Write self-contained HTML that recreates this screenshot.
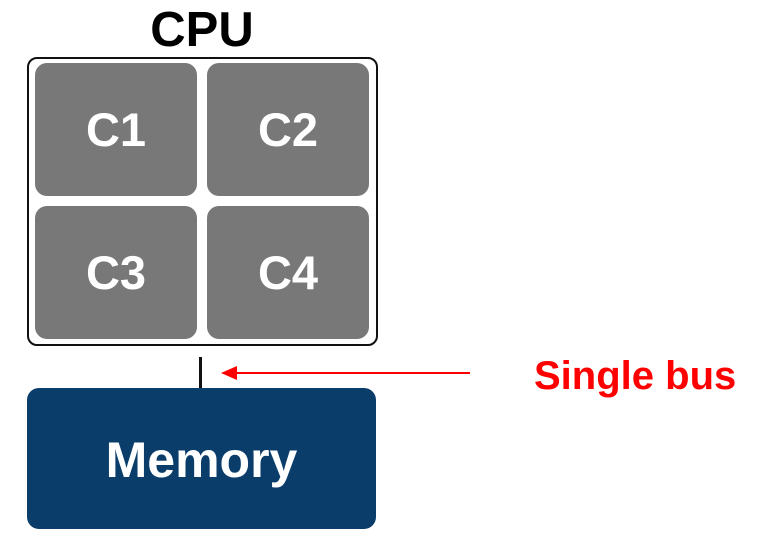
<!DOCTYPE html>
<html><head><style>
body{margin:0;width:760px;height:536px;background:#fff;position:relative;overflow:hidden;font-family:"Liberation Sans",Arial,sans-serif;font-weight:bold}
.a{position:absolute}
.core{position:absolute;width:162px;height:133px;background:#787878;border-radius:12px;color:#fff;font-size:47px;display:flex;align-items:center;justify-content:center}
</style></head><body>
<div class="a" style="left:0;top:2px;width:404px;text-align:center;font-size:49px;color:#000">CPU</div>
<div class="a" style="left:27px;top:57px;width:347px;height:285px;border:2px solid #111;border-radius:10px"></div>
<div class="core" style="left:35px;top:63px">C1</div>
<div class="core" style="left:207px;top:63px">C2</div>
<div class="core" style="left:35px;top:206px">C3</div>
<div class="core" style="left:207px;top:206px">C4</div>
<div class="a" style="left:199px;top:357px;width:3px;height:33px;background:#111"></div>
<div class="a" style="left:27px;top:388px;width:349px;height:141px;background:#0b3d6b;border-radius:12px;color:#fff;font-size:50px;display:flex;align-items:center;justify-content:center;padding-top:2px;box-sizing:border-box">Memory</div>
<svg class="a" style="left:0;top:0" width="760" height="536"><line x1="236" y1="373" x2="470" y2="373" stroke="#f00" stroke-width="2"/><polygon points="221,373 237,366 237,380" fill="#f00"/></svg>
<div class="a" style="left:534px;top:354px;font-size:40px;color:#f00">Single bus</div>
</body></html>
